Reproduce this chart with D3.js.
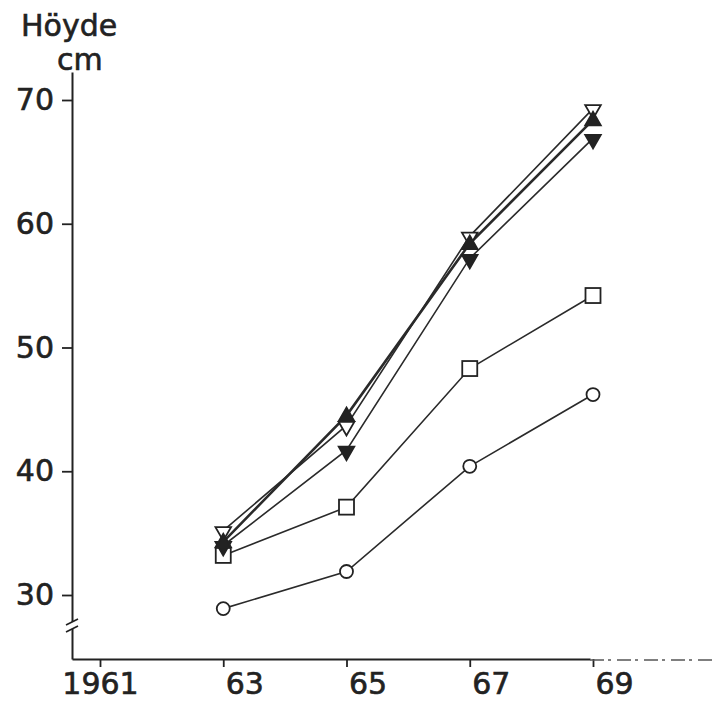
<!DOCTYPE html>
<html>
<head>
<meta charset="utf-8">
<script src="https://cdn.jsdelivr.net/npm/d3@7"></script>
<style>
	body{margin:0;background:#fff;}
	svg text{font-family:"DejaVu Sans",sans-serif;fill:#222;stroke:#222;stroke-width:0.6px;}
</style>
</head>
<body>
<div id="chart"></div>
<script>
//data (heights in cm)
const years = [1963,1965,1967,1969];
const tickYears = [1961,1963,1965,1967,1969];
const tickYearLabels = ['1961','63','65','67','69'];
const yTicks = [30,40,50,60,70];

const openCircle = [28.9,31.9,40.4,46.2];
const openSquare = [33.2,37.1,48.3,54.2];
const filledUp = [34.3,44.5,58.4,68.4];
const openDown = [35.2,43.7,59.0,69.3];
const filledDown = [34.0,41.7,57.2,66.9];

const series = [
	{name:'circle', values:openCircle, symbol:'circle', fill:'#fff', width:1.6},
	{name:'square', values:openSquare, symbol:'square', fill:'#fff', width:1.6},
	{name:'filledDown', values:filledDown, symbol:'down', fill:'#222', width:1.6},
	{name:'openDown', values:openDown, symbol:'down', fill:'#fff', width:1.6},
	{name:'filledUp', values:filledUp, symbol:'up', fill:'#222', width:2.6}
];

const width = 713, height = 715;
const axisX0 = 72, axisY0 = 659;

const svg = d3.select('#chart').append('svg')
	.attr('width',width)
	.attr('height',height);

//scales
const x = d3.scaleLinear().domain([1961,1969]).range([100,593]);
const y = d3.scaleLinear().domain([30,70]).range([595,100]);

//y axis
const yAxisScale = y.copy().domain([y.invert(axisY0), y.invert(72)]).range([axisY0,72]);
const axisY = d3.axisLeft(yAxisScale)
	.tickValues(yTicks)
	.tickSize(10)
	.tickSizeOuter(0)
	.tickPadding(8);
const gY = svg.append('g')
	.attr('class','axis axis-y')
	.attr('transform',`translate(${axisX0},0)`)
	.call(axisY);
gY.select('.domain').attr('stroke','#222').attr('stroke-width',2);
gY.selectAll('.tick line').attr('stroke','#222').attr('stroke-width',1.8);
gY.selectAll('.tick text').style('font-size','30px').attr('fill','#222');

//break on the y axis
const brk = svg.append('g').attr('class','break');
brk.append('rect')
	.attr('x',axisX0-5).attr('y',622)
	.attr('width',10).attr('height',7)
	.attr('fill','#fff');
[621,628].forEach(yy => {
	brk.append('line')
		.attr('x1',axisX0-6).attr('y1',yy+4)
		.attr('x2',axisX0+6).attr('y2',yy-2)
		.attr('stroke','#222').attr('stroke-width',1.8);
});

//x axis
const xAxisScale = x.copy().domain([x.invert(axisX0), x.invert(590)]).range([axisX0,590]);
const axisX = d3.axisBottom(xAxisScale)
	.tickValues(tickYears)
	.tickFormat((d,i) => tickYearLabels[i])
	.tickSize(8)
	.tickSizeOuter(0)
	.tickPadding(6);
const gX = svg.append('g')
	.attr('class','axis axis-x')
	.attr('transform',`translate(0,${axisY0})`)
	.call(axisX);
gX.select('.domain').attr('stroke','#222').attr('stroke-width',2);
gX.selectAll('.tick line').attr('stroke','#222').attr('stroke-width',1.8);
gX.selectAll('.tick text')
	.style('font-size','30px')
	.attr('fill','#222')
	.attr('text-anchor',(d,i) => i === 0 ? 'middle' : 'start')
	.attr('dx',(d,i) => i === 0 ? 0 : 2);

//faint dashed extension of x axis
svg.append('line')
	.attr('x1',590).attr('y1',axisY0+1)
	.attr('x2',713).attr('y2',axisY0+1)
	.attr('stroke','#555')
	.attr('stroke-width',1.5)
	.attr('stroke-dasharray','14,4,3,6');

//lines
const line = d3.line()
	.x((d,i) => x(years[i]))
	.y(d => y(d));

const plot = svg.append('g').attr('class','plot');
plot.selectAll('.series-line')
	.data(series)
	.enter()
	.append('path')
	.attr('class','series-line')
	.attr('d',d => line(d.values))
	.attr('fill','none')
	.attr('stroke','#2a2a2a')
	.attr('stroke-width',d => d.width);

//markers
const triUp = d3.symbol().type(d3.symbolTriangle).size(105);

series.forEach(s => {
	const g = plot.append('g').attr('class','markers '+s.name);
	const pts = g.selectAll('.pt')
		.data(s.values)
		.enter()
		.append('g')
		.attr('class','pt')
		.attr('transform',(d,i) => `translate(${x(years[i])},${y(d)})`);
	if(s.symbol === 'circle'){
		pts.append('circle').attr('r',6.5);
	}else if(s.symbol === 'square'){
		pts.append('rect').attr('x',-7.5).attr('y',-7.5).attr('width',15).attr('height',15);
	}else{
		pts.append('path')
			.attr('d',triUp)
			.attr('transform',s.symbol === 'down' ? 'rotate(180) translate(0,-1)' : 'translate(0,1)');
	}
	pts.selectAll('circle,rect,path')
		.attr('fill',s.fill)
		.attr('stroke','#222')
		.attr('stroke-width',1.8);
});

//axis title
svg.append('text')
	.attr('x',21).attr('y',36)
	.style('font-size','30px')
	.text('Höyde');
svg.append('text')
	.attr('x',57).attr('y',70)
	.style('font-size','30px')
	.text('cm');
</script>
</body>
</html>
